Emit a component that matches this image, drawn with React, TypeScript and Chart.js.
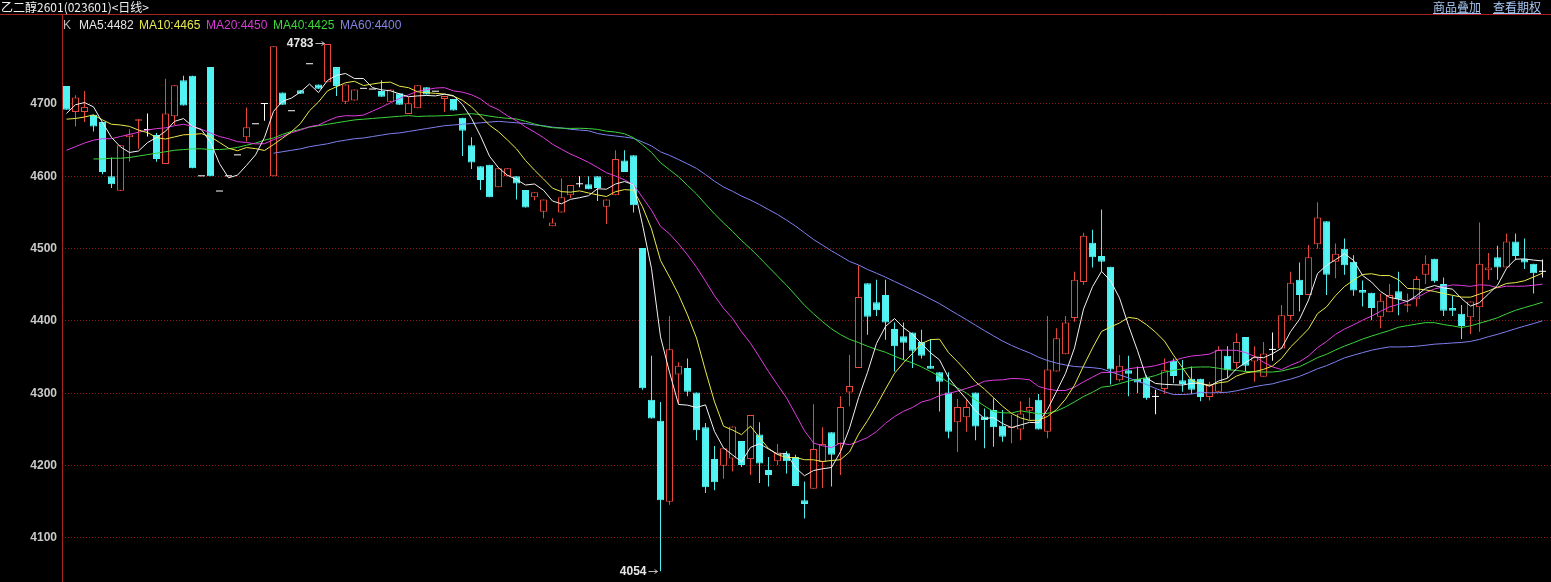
import React, { useEffect, useRef } from 'react';
import { Chart, registerables } from 'chart.js';

Chart.register(...registerables);

// ---- text ----
const TITLE = '乙二醇2601(023601)<日线>';
const LINKS = ['商品叠加', '查看期权'];
const LEGEND_HEAD = 'K';
const LEGEND_NAMES = ['MA5', 'MA10', 'MA20', 'MA40', 'MA60'];
const LEGEND_VALUES = [4482, 4465, 4450, 4425, 4400];
const Y_TICKS = [4100, 4200, 4300, 4400, 4500, 4600, 4700];

// ---- daily candles ----
const OPEN = [
  4725, 4689, 4689, 4685, 4675, 4600, 4580, 4654, 4677, 4664,
  4657, 4617, 4683, 4733, 4739, 4600, 4751, 4579, 4600, 4629,
  4654, 4672, 4700, 4600, 4716, 4690, 4719, 4755, 4727, 4730,
  4751, 4703, 4705, 4721, 4720, 4718, 4703, 4715, 4686, 4694,
  4723, 4717, 4707, 4707, 4681, 4643, 4614, 4616, 4585, 4600,
  4600, 4581, 4571, 4551, 4531, 4550, 4574, 4589, 4589, 4600,
  4558, 4574, 4622, 4629, 4501, 4291, 4262, 4150, 4326, 4335,
  4301, 4253, 4209, 4200, 4210, 4234, 4209, 4243, 4194, 4206,
  4217, 4212, 4152, 4168, 4205, 4246, 4230, 4301, 4335, 4452,
  4426, 4436, 4389, 4379, 4384, 4371, 4338, 4329, 4301, 4260,
  4267, 4301, 4268, 4277, 4255, 4252, 4250, 4276, 4291, 4247,
  4330, 4354, 4404, 4454, 4508, 4490, 4475, 4318, 4332, 4320,
  4322, 4295, 4306, 4345, 4318, 4320, 4320, 4295, 4302, 4352,
  4342, 4378, 4344, 4323, 4360, 4362, 4407, 4457, 4436, 4506,
  4538, 4482, 4500, 4482, 4443, 4439, 4406, 4412, 4441, 4421,
  4430, 4464, 4486, 4451, 4418, 4410, 4405, 4419, 4470, 4488,
  4474, 4510, 4486, 4479, 4468,
];
const HIGH = [
  4725, 4712, 4718, 4685, 4675, 4626, 4643, 4665, 4679, 4687,
  4660, 4735, 4726, 4739, 4739, 4600, 4751, 4579, 4600, 4629,
  4695, 4672, 4700, 4780, 4716, 4690, 4719, 4755, 4727, 4783,
  4751, 4727, 4720, 4721, 4720, 4733, 4720, 4715, 4710, 4726,
  4723, 4717, 4711, 4707, 4681, 4654, 4614, 4616, 4611, 4611,
  4600, 4581, 4578, 4568, 4542, 4597, 4588, 4600, 4600, 4600,
  4568, 4636, 4636, 4629, 4501, 4352, 4288, 4407, 4343, 4348,
  4301, 4259, 4227, 4224, 4254, 4234, 4270, 4260, 4212, 4230,
  4220, 4215, 4178, 4285, 4253, 4246, 4296, 4353, 4477, 4452,
  4457, 4457, 4398, 4398, 4384, 4388, 4375, 4329, 4329, 4292,
  4292, 4301, 4279, 4293, 4277, 4270, 4289, 4294, 4299, 4407,
  4390, 4407, 4468, 4522, 4526, 4554, 4475, 4353, 4352, 4337,
  4325, 4305, 4348, 4348, 4346, 4337, 4320, 4316, 4365, 4365,
  4383, 4378, 4365, 4371, 4384, 4422, 4468, 4481, 4505, 4564,
  4538, 4507, 4514, 4491, 4456, 4439, 4438, 4451, 4468, 4438,
  4462, 4491, 4486, 4460, 4435, 4422, 4427, 4536, 4494, 4504,
  4521, 4521, 4514, 4479, 4485,
];
const LOW = [
  4692, 4669, 4675, 4662, 4603, 4584, 4580, 4620, 4638, 4655,
  4620, 4617, 4671, 4698, 4611, 4600, 4600, 4579, 4600, 4629,
  4648, 4672, 4677, 4600, 4699, 4690, 4714, 4755, 4721, 4730,
  4711, 4700, 4705, 4721, 4720, 4710, 4703, 4699, 4686, 4694,
  4713, 4717, 4689, 4691, 4628, 4610, 4581, 4571, 4585, 4600,
  4568, 4557, 4567, 4542, 4531, 4550, 4570, 4585, 4582, 4566,
  4534, 4574, 4606, 4550, 4305, 4265, 4054, 4146, 4286, 4296,
  4235, 4162, 4166, 4182, 4192, 4198, 4187, 4176, 4171, 4201,
  4189, 4172, 4127, 4168, 4169, 4171, 4187, 4282, 4335, 4381,
  4407, 4374, 4330, 4346, 4335, 4348, 4334, 4275, 4238, 4219,
  4247, 4235, 4224, 4226, 4233, 4231, 4235, 4263, 4250, 4238,
  4330, 4354, 4399, 4450, 4474, 4468, 4312, 4316, 4296, 4300,
  4291, 4271, 4299, 4314, 4302, 4299, 4289, 4290, 4302, 4321,
  4335, 4330, 4316, 4323, 4345, 4362, 4401, 4413, 4436, 4500,
  4436, 4459, 4464, 4435, 4420, 4401, 4390, 4412, 4408, 4412,
  4420, 4451, 4453, 4407, 4407, 4375, 4382, 4385, 4457, 4457,
  4474, 4484, 4472, 4438, 4460,
];
const CLOSE = [
  4692, 4709, 4696, 4669, 4606, 4589, 4643, 4658, 4679, 4664,
  4624, 4687, 4726, 4698, 4611, 4600, 4600, 4579, 4600, 4629,
  4668, 4672, 4700, 4780, 4699, 4690, 4714, 4755, 4721, 4783,
  4725, 4727, 4720, 4721, 4720, 4710, 4720, 4699, 4701, 4726,
  4713, 4717, 4711, 4691, 4663, 4619, 4595, 4571, 4611, 4611,
  4590, 4557, 4578, 4568, 4536, 4571, 4588, 4589, 4582, 4584,
  4568, 4624, 4606, 4560, 4307, 4265, 4152, 4361, 4338, 4302,
  4249, 4170, 4177, 4224, 4254, 4201, 4270, 4203, 4187, 4218,
  4206, 4172, 4147, 4223, 4230, 4215, 4281, 4310, 4433, 4406,
  4415, 4398, 4365, 4370, 4359, 4352, 4334, 4316, 4247, 4281,
  4281, 4254, 4263, 4253, 4240, 4253, 4272, 4281, 4250, 4333,
  4376, 4398, 4457, 4518, 4488, 4482, 4333, 4338, 4327, 4315,
  4293, 4295, 4332, 4324, 4313, 4305, 4295, 4312, 4360, 4332,
  4371, 4338, 4350, 4355, 4360, 4408, 4453, 4436, 4488, 4543,
  4464, 4493, 4477, 4442, 4439, 4418, 4428, 4436, 4430, 4423,
  4458, 4479, 4455, 4414, 4414, 4393, 4427, 4479, 4474, 4474,
  4510, 4490, 4481, 4466, 4468,
];

// ---- moving averages: periods, plus the leading values
// (before enough visible closes exist to average) ----
const MA_PERIODS = [5, 10, 20, 40, 60];
const MA_LEAD_START = [0, 0, 0, 3, 23];
const MA5_LEAD = [4687, 4699, 4702, 4696];
const MA10_LEAD = [4679, 4680, 4682, 4685, 4678, 4672, 4671, 4669, 4664];
const MA20_LEAD = [
  4636, 4641, 4646, 4650, 4652, 4652, 4655, 4658, 4661, 4664,
  4666, 4667, 4670, 4672, 4669, 4665, 4660, 4655, 4652,
];
const MA40_LEAD = [
  4624, 4624, 4625, 4625, 4626, 4628, 4630, 4632, 4634, 4636,
  4637, 4638, 4638, 4637, 4637, 4638, 4640, 4643, 4646, 4650,
  4653, 4658, 4662, 4665, 4668, 4670, 4672, 4674, 4676, 4678,
  4679, 4680, 4681, 4682, 4683, 4684,
];
const MA60_LEAD = [
  4632, 4634, 4636, 4638, 4641, 4643, 4645, 4648, 4650, 4652,
  4653, 4655, 4657, 4659, 4660, 4662, 4664, 4666, 4668, 4670,
  4671, 4672, 4673, 4674, 4675, 4676, 4675, 4674, 4673, 4671,
  4670, 4668, 4667, 4665, 4664, 4663,
];
const MA_LEADS = [MA5_LEAD, MA10_LEAD, MA20_LEAD, MA40_LEAD, MA60_LEAD];

// ---- styles ----
const UP_COLOR = '#e8493b';
const DOWN_COLOR = '#52f3f3';
const DOJI_COLOR = '#ffffff';
const MA_COLORS = ['#f2f2f2', '#eaea4a', '#e03ce0', '#3cd43c', '#7f7ff0'];
const LEGEND_COLORS = ['#e4e4e4', '#e8e84c', '#d83ad8', '#3ad83a', '#8484e4'];
const FRAME_RED = '#a82222';
const GRID_RED = '#8e1616';

const Y_MIN = 4039.1;
const Y_MAX = 4795.4;

function movingAverage(k: number): (number | null)[] {
  const period = MA_PERIODS[k];
  const lead = MA_LEADS[k];
  const start = MA_LEAD_START[k];
  return CLOSE.map((_, i) => {
    if (i >= period - 1) {
      let s = 0;
      for (let j = i - period + 1; j <= i; j++) s += CLOSE[j];
      return s / period;
    }
    const j = i - start;
    return j >= 0 && j < lead.length ? lead[j] : null;
  });
}

function kindColor(i: number): string {
  if (CLOSE[i] > OPEN[i]) return UP_COLOR;
  if (CLOSE[i] < OPEN[i]) return DOWN_COLOR;
  return DOJI_COLOR;
}

export default function App() {
  const canvasRef = useRef<HTMLCanvasElement | null>(null);

  useEffect(() => {
    const canvas = canvasRef.current;
    if (!canvas) return;
    const n = CLOSE.length;
    const colors = CLOSE.map((_, i) => kindColor(i));

    const decor = {
      id: 'decor',
      afterDraw(chart: any) {
        const ctx = chart.ctx as CanvasRenderingContext2D;
        const area = chart.chartArea;
        ctx.save();
        ctx.strokeStyle = FRAME_RED;
        ctx.lineWidth = 1;
        ctx.beginPath();
        ctx.moveTo(0, 14.5);
        ctx.lineTo(chart.width, 14.5);
        ctx.moveTo(area.left + 0.5, 14.5);
        ctx.lineTo(area.left + 0.5, chart.height);
        ctx.stroke();

        // extreme labels
        const xs = chart.scales.x;
        const ys = chart.scales.y;
        let hi = 0;
        let lo = 0;
        for (let i = 1; i < n; i++) {
          if (HIGH[i] > HIGH[hi]) hi = i;
          if (LOW[i] < LOW[lo]) lo = i;
        }
        const mark = (idx: number, val: number) => {
          const cx = Math.round(xs.getPixelForValue(idx) - 0.5) + 0.5;
          const cy = Math.round(ys.getPixelForValue(val) - 0.5) + 0.5;
          ctx.fillStyle = '#e6e6e6';
          ctx.font = 'bold 12px "Liberation Sans", Arial, sans-serif';
          ctx.textAlign = 'right';
          ctx.textBaseline = 'middle';
          ctx.fillText(String(val), cx - 14, cy + 0.5);
          ctx.strokeStyle = '#bdbdbd';
          ctx.beginPath();
          ctx.moveTo(cx - 12, cy);
          ctx.lineTo(cx - 3, cy);
          ctx.moveTo(cx - 6, cy - 2);
          ctx.lineTo(cx - 3, cy);
          ctx.lineTo(cx - 6, cy + 2);
          ctx.stroke();
        };
        mark(hi, HIGH[hi]);
        mark(lo, LOW[lo]);
        ctx.restore();
      },
    };

    const maDatasets = MA_PERIODS.map((p, k) => ({
      type: 'line' as const,
      label: 'MA' + p,
      data: movingAverage(k).map((v, i) => ({ x: i, y: v })),
      borderColor: MA_COLORS[k],
      borderWidth: 1,
      pointRadius: 0,
      tension: 0,
      spanGaps: false,
      order: 0,
    }));

    const chart = new Chart(canvas, {
      type: 'bar',
      data: {
        datasets: [
          ...maDatasets,
          {
            type: 'bar',
            label: 'body',
            data: CLOSE.map((c, i) => ({ x: i, y: [OPEN[i], c] })) as any,
            backgroundColor: colors.map((c) => (c === UP_COLOR ? '#000000' : c)),
            borderColor: colors,
            borderWidth: colors.map((c) => (c === DOJI_COLOR ? 0 : 1)),
            borderSkipped: false,
            barThickness: 7,
            minBarLength: 1,
            grouped: false,
            inflateAmount: 0,
            order: 1,
          } as any,
          {
            type: 'bar',
            label: 'wick',
            data: CLOSE.map((_, i) => ({ x: i, y: [LOW[i], HIGH[i]] })) as any,
            backgroundColor: colors,
            borderWidth: 0,
            barThickness: 1,
            grouped: false,
            inflateAmount: 0,
            order: 2,
          } as any,
        ],
      },
      options: {
        animation: false,
        responsive: false,
        maintainAspectRatio: false,
        devicePixelRatio: 1,
        events: [],
        layout: { padding: { top: 35, left: 0, right: 0, bottom: 0 } },
        plugins: { legend: { display: false }, tooltip: { enabled: false } },
        scales: {
          x: {
            type: 'linear',
            display: false,
            min: -0.5,
            max: n - 1 + 0.94,
            offset: false,
          },
          y: {
            type: 'linear',
            position: 'left',
            min: Y_MIN,
            max: Y_MAX,
            afterFit: (s: any) => {
              s.width = 62;
              s.paddingTop = 0;
              s.paddingBottom = 0;
            },
            afterBuildTicks: (s: any) => {
              s.ticks = Y_TICKS.map((v) => ({ value: v }));
            },
            grid: { color: GRID_RED, lineWidth: 1, drawTicks: false },
            border: { display: false, dash: [1, 2] },
            ticks: {
              color: '#c9c9c9',
              padding: 5,
              font: { family: '"Liberation Sans", Arial, sans-serif', size: 12, weight: 'bold' },
              callback: (v: any) => String(v),
            },
          },
        },
      } as any,
      plugins: [decor],
    });

    return () => chart.destroy();
  }, []);

  const font12 = '12px "Liberation Sans", Arial, sans-serif';
  const legendX = [79, 139, 206, 273, 340];

  return (
    <div
      style={{
        position: 'fixed',
        left: 0,
        top: 0,
        width: 1551,
        height: 582,
        background: '#000',
        overflow: 'hidden',
      }}
    >
      <canvas
        ref={canvasRef}
        width={1551}
        height={582}
        style={{ position: 'absolute', left: 0, top: 0, width: 1551, height: 582 }}
      />
      <div
        style={{
          position: 'absolute',
          left: 1,
          top: 0,
          color: '#f0f0f0',
          font: '12px "Noto Sans CJK SC", sans-serif',
          lineHeight: '14px',
          whiteSpace: 'nowrap',
        }}
      >
        {TITLE}
      </div>
      {LINKS.map((t, i) => (
        <div
          key={t}
          style={{
            position: 'absolute',
            left: 1433 + i * 60,
            top: 0,
            color: '#a6c6f2',
            font: '12px "Noto Sans CJK SC", sans-serif',
            lineHeight: '14px',
            textDecoration: 'underline',
            whiteSpace: 'nowrap',
          }}
        >
          {t}
        </div>
      ))}
      <div
        style={{
          position: 'absolute',
          left: 63,
          top: 18,
          color: '#bdbdbd',
          font: font12,
          lineHeight: '14px',
        }}
      >
        {LEGEND_HEAD}
      </div>
      {LEGEND_NAMES.map((name, i) => (
        <div
          key={name}
          style={{
            position: 'absolute',
            left: legendX[i],
            top: 18,
            color: LEGEND_COLORS[i],
            font: font12,
            lineHeight: '14px',
            whiteSpace: 'nowrap',
          }}
        >
          {name + ':' + LEGEND_VALUES[i]}
        </div>
      ))}
    </div>
  );
}
